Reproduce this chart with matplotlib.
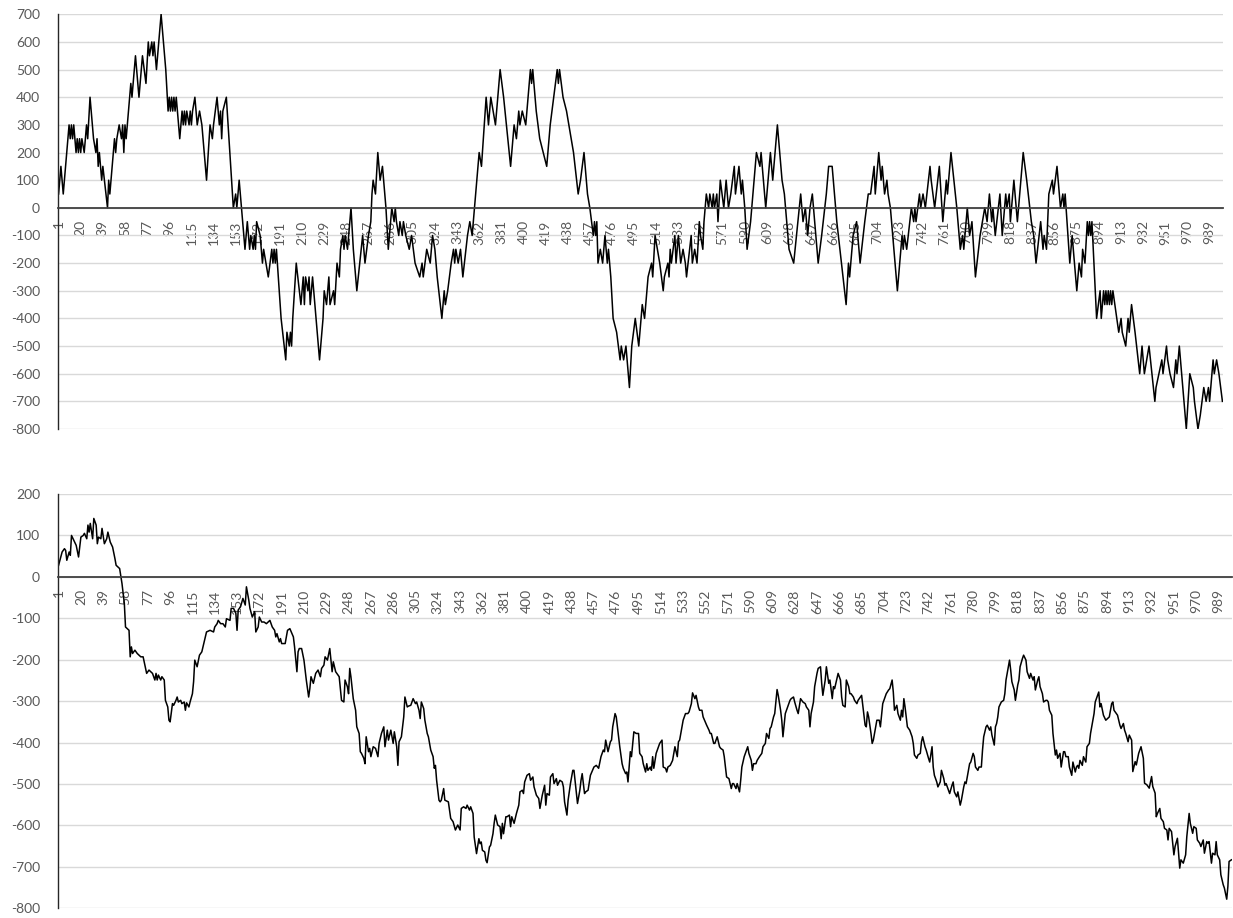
import matplotlib
matplotlib.use('Agg')
import matplotlib.pyplot as plt

plt.rcParams['font.family'] = ['Lato', 'DejaVu Sans']

# ---- data (category index, value) ----
top_idx = [1, 3, 5, 8, 10, 11, 12, 13, 14, 16, 17, 18, 19, 20, 21, 23, 25, 26, 28, 31,
           33, 34, 35, 36, 38, 39, 43, 44, 45, 47, 49, 50, 51, 53, 55, 56, 57, 58, 59, 61,
           63, 64, 67, 70, 73, 76, 78, 79, 81, 82, 83, 85, 87, 89, 91, 93, 95, 96, 97, 98,
           99, 100, 101, 102, 105, 107, 108, 109, 110, 111, 113, 114, 115, 116, 118, 120, 122, 124, 128, 131,
           133, 134, 137, 139, 140, 141, 142, 145, 148, 151, 153, 154, 156, 161, 163, 165, 166, 168, 169, 170,
           171, 174, 176, 177, 179, 181, 184, 185, 186, 187, 188, 192, 196, 197, 199, 200, 201, 202, 205, 209,
           211, 212, 213, 215, 216, 217, 219, 225, 228, 229, 231, 233, 234, 237, 238, 240, 242, 243, 245, 246,
           247, 249, 252, 254, 257, 262, 264, 267, 269, 270, 271, 273, 275, 277, 279, 280, 282, 284, 287, 289,
           290, 291, 293, 294, 296, 297, 299, 302, 304, 307, 311, 313, 314, 317, 320, 322, 324, 326, 330, 332,
           333, 335, 338, 340, 341, 342, 344, 346, 348, 352, 354, 356, 359, 362, 364, 368, 370, 372, 376, 380,
           383, 389, 392, 394, 396, 397, 399, 402, 406, 407, 408, 411, 414, 420, 423, 429, 430, 431, 434, 437,
           443, 447, 449, 452, 455, 457, 460, 461, 462, 463, 464, 466, 468, 470, 472, 473, 475, 477, 480, 483,
           484, 486, 488, 491, 493, 496, 499, 500, 502, 504, 506, 507, 510, 511, 513, 515, 517, 520, 521, 524,
           525, 526, 527, 530, 531, 533, 535, 537, 539, 540, 544, 545, 547, 549, 551, 552, 554, 555, 557, 559,
           560, 562, 563, 564, 566, 567, 569, 572, 574, 576, 578, 581, 582, 585, 587, 588, 590, 592, 595, 600,
           603, 604, 608, 612, 614, 618, 622, 624, 628, 632, 638, 640, 642, 644, 646, 648, 651, 653, 656, 660,
           662, 665, 669, 673, 677, 679, 680, 683, 686, 689, 693, 696, 698, 701, 702, 705, 707, 708, 710, 712,
           713, 715, 717, 721, 725, 726, 727, 729, 733, 735, 736, 737, 740, 741, 743, 745, 749, 750, 753, 757,
           760, 763, 764, 767, 772, 775, 777, 778, 781, 783, 785, 788, 792, 796, 798, 800, 802, 803, 805, 809,
           811, 814, 815, 817, 818, 821, 824, 826, 829, 832, 836, 838, 840, 844, 846, 847, 849, 851, 854, 855,
           858, 861, 863, 864, 865, 869, 871, 875, 877, 879, 880, 882, 884, 885, 886, 887, 888, 892, 895, 896,
           898, 899, 900, 901, 902, 903, 904, 905, 906, 911, 913, 914, 917, 919, 920, 922, 925, 929, 931, 932,
           933, 935, 937, 942, 943, 948, 949, 952, 953, 955, 958, 960, 961, 963, 966, 969, 972, 975, 976, 979,
           981, 984, 986, 988, 989, 992, 993, 995, 997, 1000]
top_val = [50, 150, 50, 200, 300, 250, 300, 250, 300, 200, 250, 200, 250, 200, 250, 200, 300, 250, 400, 250,
           200, 250, 150, 200, 100, 150, 0, 100, 50, 150, 250, 200, 250, 300, 250, 300, 200, 300, 250, 350,
           450, 400, 550, 400, 550, 450, 600, 550, 600, 550, 600, 500, 600, 700, 600, 500, 350, 400, 350, 400,
           350, 400, 350, 400, 250, 350, 300, 350, 300, 350, 300, 350, 300, 350, 400, 300, 350, 300, 100, 300,
           250, 300, 400, 300, 350, 250, 350, 400, 200, 0, 50, 0, 100, -150, -50, -150, -100, -150, -100, -150,
           -50, -100, -200, -150, -200, -250, -150, -200, -150, -200, -150, -400, -550, -450, -500, -450, -500, -400, -200, -350,
           -250, -350, -250, -300, -250, -350, -250, -550, -400, -300, -350, -250, -350, -300, -350, -200, -250, -150, -100, -150,
           -100, -150, 0, -150, -300, -100, -200, -100, -50, 50, 100, 50, 200, 100, 150, 100, 0, -150, 0, -50,
           0, -50, -100, -50, -100, -50, -100, -150, -100, -200, -250, -200, -250, -150, -200, -100, -150, -250, -400, -300,
           -350, -300, -200, -150, -200, -150, -200, -150, -250, -100, -50, -100, 50, 200, 150, 400, 300, 400, 300, 500,
           400, 150, 300, 250, 350, 300, 350, 300, 500, 450, 500, 350, 250, 150, 300, 500, 450, 500, 400, 350,
           200, 50, 100, 200, 50, 0, -100, -50, -100, -50, -200, -150, -200, -100, -200, -150, -250, -400, -450, -550,
           -500, -550, -500, -650, -500, -400, -500, -450, -350, -400, -300, -250, -200, -250, -100, -150, -200, -300, -250, -200,
           -250, -150, -200, -100, -200, -100, -200, -150, -200, -250, -100, -200, -150, -200, -50, -100, -150, -50, 50, 0,
           50, 0, 50, 0, 50, -50, 100, 0, 100, 0, 50, 150, 50, 150, 50, 100, 0, -150, -50, 200,
           150, 200, 0, 200, 100, 300, 100, 50, -150, -200, 50, -50, 0, -100, 0, 50, -100, -200, -100, 50,
           150, 150, -50, -200, -350, -200, -250, -100, -50, -200, -50, 50, 50, 150, 50, 200, 100, 150, 50, 100,
           50, 0, -100, -300, -100, -150, -100, -150, 0, -50, 0, -50, 50, 0, 50, 0, 150, 100, 0, 150,
           -50, 100, 50, 200, 0, -150, -100, -150, 0, -100, -50, -250, -100, 0, -50, 50, -50, 0, -100, 50,
           -100, 50, 0, 50, -50, 100, -50, 50, 200, 100, -50, -100, -200, -50, -150, -100, -150, 50, 100, 50,
           150, 0, 50, 0, 50, -200, -100, -300, -200, -250, -150, -200, -50, -100, -50, -100, -50, -400, -300, -400,
           -300, -350, -300, -350, -300, -350, -300, -350, -300, -450, -400, -450, -500, -400, -450, -350, -450, -600, -500, -550,
           -600, -550, -500, -700, -650, -550, -600, -500, -550, -600, -650, -550, -600, -500, -650, -800, -600, -650, -700, -800,
           -750, -650, -700, -650, -700, -550, -600, -550, -600, -700]

bot_idx = [1, 4, 6, 7, 8, 10, 11, 12, 14, 16, 18, 20, 22, 23, 25, 26, 27, 28, 30, 31,
           33, 34, 35, 37, 38, 40, 42, 43, 45, 47, 49, 50, 53, 55, 57, 58, 61, 62, 63, 64,
           66, 68, 71, 73, 76, 78, 81, 83, 84, 85, 86, 88, 89, 91, 92, 94, 95, 96, 98, 99,
           101, 102, 103, 105, 106, 108, 109, 110, 112, 113, 115, 116, 117, 119, 121, 123, 125, 127, 130, 133,
           134, 136, 137, 139, 141, 143, 144, 147, 148, 150, 152, 153, 154, 156, 158, 160, 161, 163, 164, 166,
           168, 169, 171, 172, 174, 176, 178, 181, 183, 185, 186, 187, 189, 190, 191, 194, 196, 198, 201, 202,
           204, 205, 206, 208, 210, 212, 214, 215, 216, 218, 220, 222, 224, 225, 227, 228, 230, 232, 234, 235,
           237, 238, 240, 242, 244, 245, 247, 248, 249, 250, 252, 254, 255, 257, 258, 259, 261, 262, 263, 265,
           266, 267, 269, 271, 273, 274, 276, 278, 279, 281, 282, 284, 286, 287, 289, 290, 291, 293, 295, 296,
           298, 299, 301, 303, 305, 306, 308, 309, 310, 312, 313, 315, 316, 318, 320, 321, 322, 323, 325, 326,
           327, 329, 330, 333, 335, 337, 339, 341, 343, 344, 346, 348, 349, 351, 352, 354, 355, 357, 359, 360,
           361, 362, 364, 365, 366, 368, 369, 371, 372, 373, 375, 377, 378, 379, 380, 382, 383, 385, 386, 387,
           389, 391, 393, 394, 396, 397, 398, 400, 402, 403, 405, 406, 408, 410, 411, 413, 414, 415, 416, 417,
           419, 420, 422, 423, 425, 426, 428, 430, 431, 432, 434, 435, 437, 439, 440, 442, 443, 445, 446, 447,
           449, 450, 452, 454, 457, 459, 461, 463, 465, 466, 467, 469, 470, 471, 472, 473, 475, 476, 477, 479,
           481, 482, 484, 485, 486, 488, 489, 491, 493, 495, 496, 498, 499, 501, 502, 503, 505, 506, 507, 508,
           510, 512, 513, 515, 516, 518, 519, 520, 522, 524, 526, 528, 529, 530, 533, 535, 537, 538, 540, 541,
           543, 544, 546, 547, 549, 550, 553, 555, 556, 557, 559, 560, 562, 564, 565, 567, 568, 569, 570, 572,
           574, 575, 576, 578, 579, 581, 582, 583, 585, 586, 588, 589, 591, 592, 593, 595, 596, 598, 600, 601,
           603, 604, 606, 607, 608, 610, 611, 613, 614, 616, 617, 618, 620, 621, 623, 624, 625, 627, 628, 630,
           631, 633, 634, 635, 637, 638, 640, 641, 642, 644, 645, 647, 648, 650, 651, 652, 654, 655, 657, 658,
           660, 661, 662, 664, 665, 667, 668, 669, 671, 672, 674, 675, 676, 678, 679, 681, 682, 684, 685, 686,
           688, 689, 690, 691, 693, 694, 695, 697, 698, 700, 701, 703, 705, 706, 708, 709, 711, 712, 713, 715,
           716, 718, 719, 720, 721, 722, 724, 726, 728, 729, 730, 732, 733, 735, 736, 737, 739, 740, 742, 743,
           745, 746, 747, 749, 750, 752, 753, 755, 756, 757, 759, 760, 762, 763, 764, 766, 767, 769, 770, 772,
           773, 774, 776, 777, 778, 780, 781, 782, 784, 785, 787, 788, 789, 791, 792, 794, 795, 796, 798, 799,
           800, 801, 802, 804, 806, 807, 808, 809, 811, 812, 813, 815, 816, 818, 819, 820, 822, 823, 825, 826,
           828, 829, 831, 832, 833, 835, 836, 837, 839, 840, 842, 843, 844, 845, 847, 848, 850, 851, 852, 854,
           855, 857, 858, 859, 861, 862, 864, 865, 866, 867, 868, 869, 870, 871, 873, 874, 876, 877, 879, 880,
           881, 883, 884, 886, 887, 888, 889, 891, 893, 896, 898, 899, 900, 903, 905, 906, 908, 909, 910, 912,
           913, 915, 916, 918, 919, 921, 923, 925, 926, 928, 930, 932, 933, 935, 936, 937, 939, 940, 942, 943,
           945, 946, 947, 949, 951, 952, 954, 956, 957, 959, 961, 962, 964, 965, 967, 968, 970, 971, 973, 974,
           976, 977, 979, 980, 981, 983, 984, 986, 987, 988, 990, 991, 993, 994, 996, 997, 998, 1000]
bot_val = [28, 60, 68, 64, 40, 60, 52, 100, 88, 76, 48, 96, 100, 105, 92, 125, 108, 129, 92, 141,
           125, 80, 96, 92, 117, 80, 92, 108, 84, 72, 44, 28, 20, -16, -64, -121, -129, -193, -169, -185,
           -177, -185, -193, -193, -233, -225, -233, -249, -233, -249, -237, -249, -241, -249, -298, -314, -346, -350, -306, -310,
           -298, -290, -302, -298, -306, -302, -322, -304, -314, -302, -282, -253, -201, -217, -189, -181, -157, -133, -129, -133,
           -121, -113, -105, -113, -113, -121, -101, -105, -76, -76, -88, -129, -80, -72, -52, -68, -24, -56, -76, -97,
           -84, -133, -121, -97, -109, -109, -113, -105, -121, -129, -145, -137, -157, -149, -161, -161, -129, -125, -145, -169,
           -229, -181, -173, -173, -201, -249, -290, -270, -241, -257, -233, -225, -241, -221, -213, -193, -201, -173, -229, -205,
           -229, -233, -241, -298, -302, -249, -265, -282, -221, -241, -294, -322, -362, -378, -422, -426, -438, -451, -386, -422,
           -414, -434, -410, -414, -434, -402, -378, -362, -410, -370, -394, -370, -402, -374, -410, -455, -398, -386, -338, -290,
           -314, -312, -310, -294, -306, -302, -322, -342, -302, -318, -346, -378, -386, -418, -434, -462, -455, -491, -539, -543,
           -539, -511, -539, -543, -583, -591, -611, -599, -611, -559, -555, -559, -551, -563, -555, -571, -628, -668, -632, -644,
           -640, -660, -664, -684, -690, -652, -648, -620, -595, -575, -599, -603, -632, -595, -620, -579, -579, -575, -603, -579,
           -595, -571, -551, -519, -515, -523, -495, -479, -475, -491, -483, -507, -527, -535, -559, -527, -515, -503, -551, -523,
           -527, -483, -475, -499, -487, -503, -491, -495, -507, -543, -575, -539, -499, -467, -467, -519, -547, -515, -491, -475,
           -523, -519, -515, -479, -459, -455, -462, -434, -418, -422, -394, -422, -410, -398, -394, -362, -330, -338, -362, -410,
           -451, -462, -475, -471, -495, -422, -434, -374, -378, -378, -426, -434, -451, -471, -451, -467, -459, -467, -434, -462,
           -426, -410, -402, -394, -459, -462, -471, -459, -455, -443, -410, -434, -398, -394, -346, -330, -330, -326, -306, -280,
           -294, -286, -314, -322, -322, -338, -358, -370, -378, -378, -402, -402, -386, -410, -414, -418, -434, -459, -483, -487,
           -511, -499, -499, -511, -499, -519, -491, -459, -434, -426, -410, -426, -443, -467, -451, -451, -443, -434, -426, -410,
           -402, -378, -390, -366, -362, -338, -330, -272, -286, -322, -346, -386, -330, -322, -306, -298, -294, -290, -302, -322,
           -330, -294, -298, -302, -306, -314, -322, -362, -330, -302, -265, -233, -221, -217, -257, -286, -249, -217, -257, -249,
           -294, -265, -270, -245, -233, -249, -290, -310, -314, -249, -265, -282, -282, -290, -298, -306, -298, -290, -286, -310,
           -358, -362, -326, -338, -378, -402, -394, -362, -346, -346, -362, -306, -290, -282, -273, -270, -249, -278, -322, -310,
           -330, -346, -322, -338, -294, -314, -362, -370, -386, -402, -430, -438, -430, -426, -398, -386, -410, -418, -438, -447,
           -410, -459, -479, -495, -507, -495, -467, -487, -503, -499, -515, -523, -503, -495, -519, -531, -519, -551, -539, -507,
           -495, -499, -467, -451, -447, -426, -434, -459, -467, -459, -459, -418, -386, -362, -358, -370, -362, -382, -406, -362,
           -354, -338, -314, -302, -298, -282, -249, -233, -201, -225, -253, -273, -298, -261, -249, -217, -197, -189, -201, -229,
           -245, -233, -249, -241, -273, -249, -241, -265, -282, -302, -298, -298, -302, -322, -334, -378, -430, -418, -438, -426,
           -459, -422, -422, -434, -434, -459, -479, -447, -459, -471, -459, -455, -462, -443, -455, -434, -447, -410, -402, -378,
           -362, -330, -302, -286, -278, -314, -306, -334, -346, -338, -306, -302, -322, -334, -358, -366, -354, -370, -378, -398,
           -382, -394, -470, -446, -454, -426, -410, -438, -498, -502, -510, -482, -506, -522, -579, -571, -559, -583, -591, -607,
           -611, -635, -607, -615, -671, -651, -631, -703, -683, -691, -671, -627, -571, -595, -619, -603, -607, -635, -643, -651,
           -635, -667, -639, -643, -639, -691, -667, -671, -639, -671, -683, -719, -743, -751, -778, -747, -687, -683]

tick_cats = list(range(1, 1001, 19))

W, H = 1233, 918
fig = plt.figure(figsize=(W / 100, H / 100), dpi=100)
ax1 = fig.add_axes([58 / W, 1 - 429 / H, (1223 - 58) / W, (429 - 14.3) / H])
ax2 = fig.add_axes([58 / W, 1 - 908.3 / H, (1232 - 58) / W, (908.3 - 494) / H])


def style(ax, lo, hi):
    ax.set_xlim(0.5, 1000.5)
    ax.set_ylim(lo, hi)
    yt = list(range(lo, hi + 1, 100))
    ax.set_yticks(yt)
    ax.set_yticklabels([str(v) for v in yt])
    ax.set_xticks(tick_cats)
    ax.set_xticklabels([str(t) for t in tick_cats])
    ax.grid(axis='y', color='#d9d9d9', lw=1.0)
    ax.grid(axis='x', visible=False)
    for s in ['top', 'right']:
        ax.spines[s].set_visible(False)
    ax.spines['bottom'].set_position(('data', 0))
    ax.spines['bottom'].set_color('#404040')
    ax.spines['bottom'].set_linewidth(1.3)
    ax.spines['left'].set_color('#262626')
    ax.spines['left'].set_linewidth(1.0)
    ax.tick_params(axis='x', length=0, pad=9, labelsize=10, labelcolor='#595959',
                   labelrotation=90)
    ax.tick_params(axis='y', length=0, pad=13, labelsize=10, labelcolor='#595959')


ax1.plot(top_idx, top_val, color='black', lw=1.1)
style(ax1, -800, 700)

ax2.plot(bot_idx, bot_val, color='black', lw=1.1)
style(ax2, -800, 200)

fig.savefig('out.png', dpi=100)
